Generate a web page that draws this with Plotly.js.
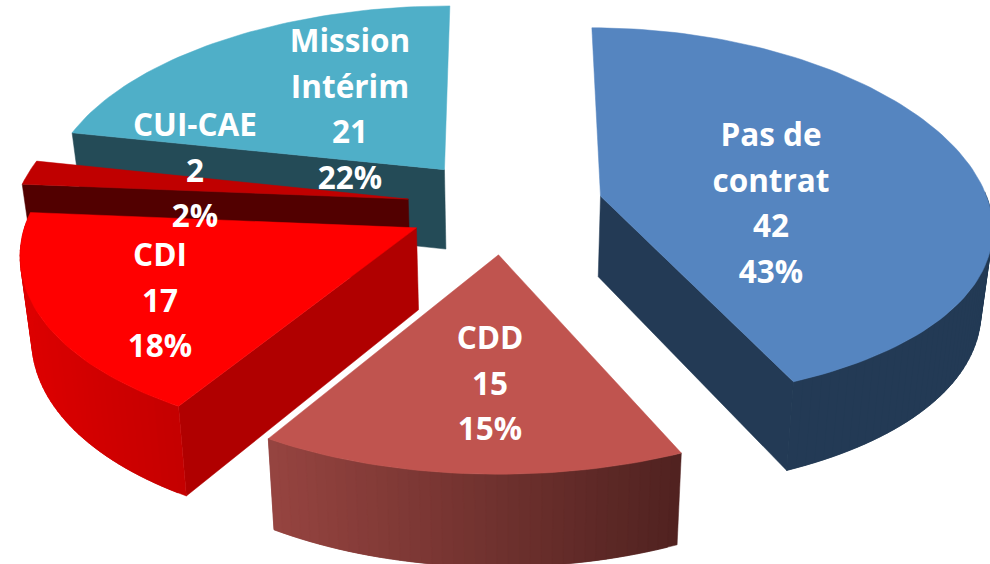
<!DOCTYPE html>
<html><head><meta charset="utf-8">
<script src="https://cdn.plot.ly/plotly-3.0.0.min.js"></script>
<style>html,body{margin:0;padding:0;background:#fff}#c{width:990px;height:564px}</style>
</head><body><div id="c"></div>
<script>
const categories = ["Pas de contrat","CDD","CDI","CUI-CAE","Mission Intérim"];
const values = [42,15,17,2,21];
const percents = ["43%","15%","18%","2%","22%"];
const labelLines = [["Pas de","contrat"],["CDD"],["CDI"],["CUI-CAE"],["Mission","Intérim"]];
const topColors = ["#5585c0","#c0544f","#ff0000","#c00000","#4fafc8"];
const sideColors = [["#233a55","#233a55"],["#964440","#502220"],["#dd0000","#c40000"],["#520000","#520000"],["#244b57","#244b57"]];
const radialColors = ["#233a55","#8a4340","#b00000","#520000","#244b57"];

// 3D pie model
const P = {cx:505, cy:206, AL:392, AR:386, Aox:385, B:187, DxL:8, DxR:6.5, Dy:10, explode:0.255, h:81, taper:0.976};
const total = values.reduce((a,b)=>a+b,0);
function proj(ox,oz,rx,rz,down){
  const Z=oz+rz, wy=1/(1+Z/P.Dy), left=rx<0;
  const wx=1/(1+rz/(left?P.DxL:P.DxR));
  let x=P.cx+P.Aox*ox*wy+(left?P.AL:P.AR)*rx*wx;
  let y=P.cy-P.B*Z*wy;
  if(down){x=P.cx+(x-P.cx)*P.taper;y+=P.h*wy;}
  return [x,y];
}
function slices(){let a=0;return values.map(v=>{const s=a;a+=v/total*2*Math.PI;return [s,a];});}
const traces=[];
function poly(pts,color){
  const c=pts.concat([pts[0]]);
  traces.push({type:'scatter',mode:'lines',x:c.map(p=>p[0]),y:c.map(p=>p[1]),fill:'toself',fillcolor:color,
    line:{color:color,width:0.5},hoverinfo:'skip',showlegend:false});
}
function mix(c1,c2,t){const p=c=>[1,3,5].map(i=>parseInt(c.substr(i,2),16));const a=p(c1),b=p(c2);
  return 'rgb('+a.map((v,i)=>Math.round(v+(b[i]-v)*t)).join(',')+')';}
function drawSlice(i,s,e){
  const m=(s+e)/2, ox=P.explode*Math.sin(m), oz=P.explode*Math.cos(m);
  const at=(t,r,d)=>proj(ox,oz,r*Math.sin(t),r*Math.cos(t),d);
  const n=Math.max(6,Math.ceil((e-s)/0.025));
  const arc=[];for(let k=0;k<=n;k++)arc.push(s+(e-s)*k/n);
  const apex=at(0,0), apexD=at(0,0,1), pm=at(m,0.6);
  [s,e].forEach(t=>{
    if(Math.cos(t)>0.95) return;
    const q0=at(t,1);
    const dx=q0[0]-apex[0], dy=q0[1]-apex[1];
    const u=Math.abs(dx)<1e-6?0:(pm[0]-apex[0])/dx;
    if(pm[1] < apex[1]+dy*u) poly([apex,q0,at(t,1,1),apexD],radialColors[i]);
  });
  const xs=arc.map(t=>at(t,1)[0]);
  const minx=Math.min(...xs),maxx=Math.max(...xs);
  for(let k=0;k<n;k++){
    if(Math.cos((arc[k]+arc[k+1])/2)>0.02) continue;
    const t2=arc[Math.min(k+2,n)];
    const a0=arc[k], a1=(a0+arc[k+1])/2;
    const q=[at(a0,1),at(a1,1),at(arc[k+1],1),at(t2,1),at(t2,1,1),at(arc[k+1],1,1),at(a1,1,1),at(a0,1,1)];
    const f=((at(a0,1)[0]+at(arc[k+1],1)[0])/2-minx)/(maxx-minx||1);
    poly(q,mix(sideColors[i][0],sideColors[i][1],f));
  }
  poly([apex].concat(arc.map(t=>at(t,1))),topColors[i]);
}
const sl=slices();
[4,3,2,0,1].forEach(i=>drawSlice(i,sl[i][0],sl[i][1]));

// labels
const anchors=[[771,138],[490,341],[160,258],[195,128],[350,44]];
const lx=[],ly=[],lt=[];
const step=45.8;
categories.forEach((c,i)=>{
  const lines=labelLines[i].concat([String(values[i]),percents[i]]);
  lines.forEach((t,j)=>{lx.push(anchors[i][0]);ly.push(anchors[i][1]+j*step);lt.push(t);});
});
traces.push({type:'scatter',mode:'text',x:lx,y:ly,text:lt,textposition:'middle center',
  textfont:{family:'Open Sans, Lato, sans-serif',size:31.5,color:'#ffffff',weight:700},hoverinfo:'skip',showlegend:false,cliponaxis:false});

Plotly.newPlot('c',traces,{
  width:990,height:564,margin:{l:0,r:0,t:0,b:0},paper_bgcolor:'#fff',plot_bgcolor:'#fff',showlegend:false,
  xaxis:{range:[0,990],visible:false,fixedrange:true},
  yaxis:{range:[564,0],visible:false,fixedrange:true}
},{displayModeBar:false,staticPlot:true});
</script></body></html>
